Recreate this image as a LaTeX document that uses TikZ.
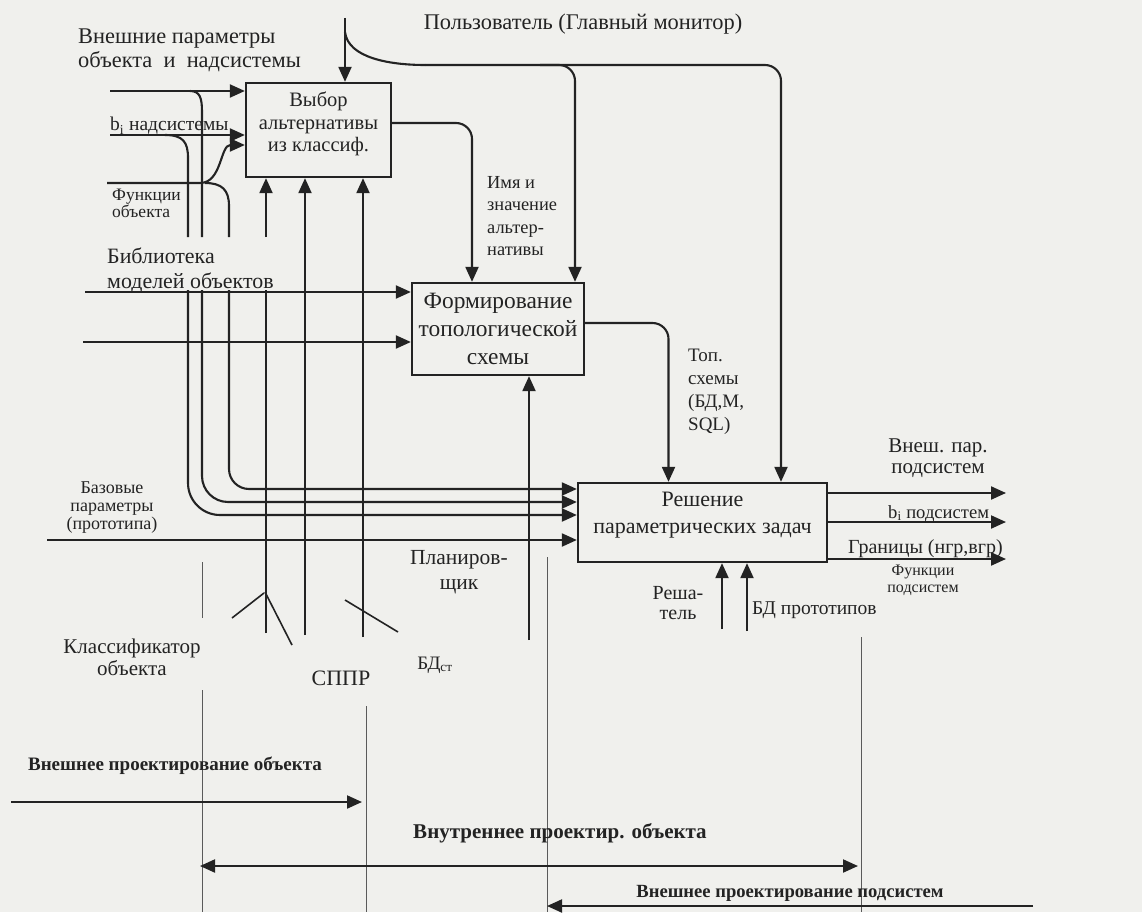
\documentclass[tikz,border=0pt]{standalone}
\usepackage{fontspec}
\setmainfont{Liberation Serif}
\usetikzlibrary{arrows.meta,calc}
\definecolor{ink}{RGB}{35,35,35}
\definecolor{paper}{RGB}{240,240,237}
\newcommand\myfs[2]{\fontsize{#1}{#2}\selectfont}
\begin{document}
\begin{tikzpicture}[x=1pt,y=-1pt,
  ln/.style={draw=ink,line width=2.1pt},
  ar/.style={ln,-{Triangle[length=15pt,width=13pt]}},
  dar/.style={ln,{Triangle[length=15pt,width=13pt]}-{Triangle[length=15pt,width=13pt]}},
  thinln/.style={draw=ink!75,line width=0.9pt},
  box/.style={draw=ink,line width=2.3pt,inner sep=0pt},
  boxtext/.style={inner sep=0pt,align=center,text=ink},
  lbl/.style={inner sep=0pt,align=left,text=ink}]
\fill[paper] (0,0) rectangle (1142,912);
\useasboundingbox (0,0) rectangle (1142,912);

% boxes
\node[box,minimum width=145pt,minimum height=94pt] (b1) at (318.5,130) {};
\node[box,minimum width=172pt,minimum height=92pt] (b2) at (498,329) {};
\node[box,minimum width=249pt,minimum height=79pt] (b3) at (702.5,522.5) {};
\node[boxtext,font=\myfs{20.5}{22.5}] (b1t) at ($(b1.center)+(0,-6)$) {Выбор\\альтернативы\\из классиф.};
\node[boxtext,font=\myfs{23.4}{28}] (b2t) at (b2.center) {Формирование\\топологической\\схемы};
\node[boxtext,font=\myfs{22}{27}] (b3t) at ($(b3.center)+(0,-7)$) {Решение\\параметрических задач};

% user (main monitor)
\coordinate (u0) at (345,18);
\coordinate (ub) at (345,32);
\coordinate (uh) at (425,65);
\coordinate (uj) at (540,65);
\draw[ar] (u0) -- (u0 |- b1.north);
\draw[ln] (ub) .. controls (348,58) and (390,65) .. (uh);
\draw[ar,rounded corners=16] (uh) -| ($(b3.north)+(78.5,0)$);
\draw[ar,rounded corners=16] (uj) -| ($(b2.north)+(77,0)$);

% box1 -> box2
\draw[ar,rounded corners=16] (b1.east |- 0,123) -| ($(b2.north)+(-26,0)$);

% box1 inputs
\coordinate (i1) at (110,91);
\coordinate (i2) at (110,135);
\coordinate (i3) at (107,183);
\draw[ar] (i1) -- (b1.west |- i1);
\draw[ar] (i2) -- (b1.west |- i2);
\draw[ar] (i3) -- (200,183) .. controls (222,183) and (220,145) .. (b1.west |- 0,145);
\draw[ln] (190,91) .. controls (200,91) and (202,98) .. (202,112) -- (202,237);
\draw[ln] (165,135) .. controls (183,135) and (188,142) .. (188,158) -- (188,237);
\draw[ln] (205,183) .. controls (222,183) and (229,190) .. (229,206) -- (229,237);
\draw[ar,rounded corners=32] (188,290) |- (b3.west |- 0,515);
\draw[ar,rounded corners=26] (202,290) |- (b3.west |- 0,502);
\draw[ar,rounded corners=20] (229,290) |- (b3.west |- 0,489);

% base parameters
\coordinate (bp) at (47,540);
\draw[ar] (bp) -- (b3.west |- bp);

% box2 inputs
\coordinate (l1) at (85,292);
\coordinate (l2) at (83,342);
\draw[ar] (l1) -- (b2.west |- l1);
\draw[ar] (l2) -- (b2.west |- l2);

% box2 -> box3
\draw[ar,rounded corners=16] (b2.east |- 0,323) -| ($(b3.north)+(-34,0)$);

% box3 outputs
\draw[ar] (b3.east |- 0,493) -- (1006,493);
\draw[ar] (b3.east |- 0,522) -- (1006,522);
\draw[ar] (b3.east |- 0,559) -- (1006,559);

% mechanisms to box3
\draw[ar] (722,629) -- (b3.south -| 722,0);
\draw[ar] (747,631) -- (b3.south -| 747,0);

% mechanisms to box1 / box2
\draw[ln] (266,633) -- (266,290);
\draw[ar] (266,237) -- (b1.south -| 266,0);
\draw[ar] (305,635) -- (b1.south -| 305,0);
\draw[ar] (363,637) -- (b1.south -| 363,0);
\draw[ar] (529,640) -- (b2.south -| 529,0);

% leaders
\draw[ln,line width=1.6pt] (232,618) -- (264,593);
\draw[ln,line width=1.6pt] (265,592) -- (292,645);
\draw[ln,line width=1.6pt] (345,600) -- (398,632);

% thin separators
\draw[thinln] (202,562) -- (202,618);
\draw[thinln] (202,690) -- (202,912);
\draw[thinln] (366,706) -- (366,912);
\draw[thinln] (547,557) -- (547,912);
\draw[thinln] (861,637) -- (861,912);

% bottom arrows
\coordinate (e1a) at (11,802);
\coordinate (e1b) at (362,802);
\coordinate (e2a) at (200,866);
\coordinate (e2b) at (858,866);
\coordinate (e3a) at (1033,906);
\coordinate (e3b) at (547,906);
\draw[ar] (e1a) -- (e1b);
\draw[dar] (e2a) -- (e2b);
\draw[ar] (e3a) -- (e3b);

% labels
\node[lbl,anchor=north west,font=\myfs{22.4}{24}] (t1) at (78,29) {Внешние параметры\\объекта\ \ и\ \ надсистемы};
\node[lbl,anchor=base west,font=\myfs{19.5}{20}] (t2) at (110,131) {b\textsubscript{i} надсистемы};
\node[lbl,anchor=north west,font=\myfs{17.5}{16.5}] (t3) at (112,189) {Функции\\объекта};
\node[lbl,anchor=north west,font=\myfs{21.9}{25}] (t4) at (107,248) {Библиотека\\моделей объектов};
\node[lbl,font=\myfs{22.4}{24}] (t5) at (583,24) {Пользователь (Главный монитор)};
\node[lbl,anchor=north west,font=\myfs{18.4}{22.5}] (t6) at (487,176) {Имя и\\значение\\альтер-\\нативы};
\node[lbl,anchor=north west,font=\myfs{19}{23}] (t7) at (688,349) {Топ.\\схемы\\(БД,М,\\SQL)};
\node[lbl,align=center,font=\myfs{21}{21}] (t8) at (938,458) {Внеш. пар.\\подсистем};
\node[lbl,anchor=base west,font=\myfs{18.6}{20}] (t9) at (888,518) {b\textsubscript{i} подсистем};
\node[lbl,anchor=base west,font=\myfs{20}{20}] (t10) at (848,553) {Границы (нгр,вгр)};
\node[lbl,align=center,font=\myfs{16}{17}] (t11) at (923,580) {Функции\\подсистем};
\node[lbl,align=center,font=\myfs{18}{18}] (t12) at (112,508) {Базовые\\параметры\\(прототипа)};
\node[lbl,align=center,font=\myfs{21.5}{25}] (t13) at (459,572) {Планиров-\\щик};
\node[lbl,align=center,font=\myfs{20}{20}] (t14) at (678,603) {Реша-\\тель};
\node[lbl,anchor=base west,font=\myfs{19.5}{20}] (t15) at (752,614) {БД прототипов};
\node[lbl,align=center,font=\myfs{21}{22}] (t16) at (132,657) {Классификатор\\объекта};
\node[lbl,font=\myfs{22}{22}] (t17) at (341,678) {СППР};
\node[lbl,font=\myfs{19}{19}] (t18) at (435,665) {БД\textsubscript{ст}};
\node[lbl,font=\bfseries\myfs{19}{19}] (t19) at (175,766) {Внешнее проектирование объекта};
\node[lbl,font=\bfseries\myfs{21}{21}] (t20) at (560,833) {Внутреннее проектир. объекта};
\node[lbl,font=\bfseries\myfs{18.6}{19}] (t21) at (790,893) {Внешнее проектирование подсистем};
\end{tikzpicture}
\end{document}
